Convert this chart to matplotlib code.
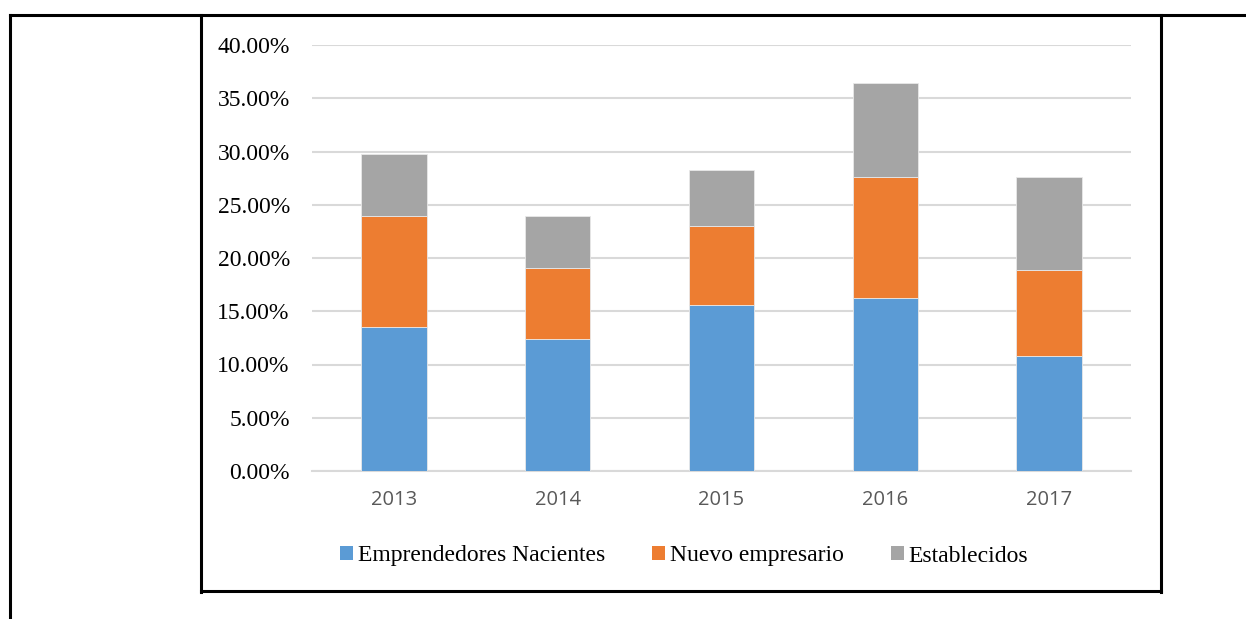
import numpy as np
import matplotlib
matplotlib.use("Agg")
import matplotlib.pyplot as plt
from matplotlib.lines import Line2D
from matplotlib.patches import Patch
from matplotlib.ticker import PercentFormatter

years = ["2013", "2014", "2015", "2016", "2017"]
nacientes = [13.52, 12.40, 15.59, 16.27, 10.77]
nuevo = [10.42, 6.69, 7.41, 11.31, 8.10]
establecidos = [5.83, 4.88, 5.26, 8.88, 8.71]
series_names = ["Emprendedores Nacientes", "Nuevo empresario", "Establecidos"]
colors = ["#5b9bd5", "#ed7d31", "#a5a5a5"]
yticks = [0, 5, 10, 15, 20, 25, 30, 35, 40]

fig = plt.figure(figsize=(12.46, 6.19), dpi=100)
ax = fig.add_axes([312 / 1246, 1 - 471 / 619, 819 / 1246, 426 / 619])

x = np.arange(len(years))
bottom = np.zeros(len(years))
for vals, name, c in zip([nacientes, nuevo, establecidos], series_names, colors):
    ax.bar(x, vals, 0.4, bottom=bottom, color=c, label=name, zorder=3,
           edgecolor="#e8e8e8", linewidth=0.6)
    bottom += np.array(vals)

ax.set_xlim(-0.5, len(years) - 0.5)
ax.set_ylim(0, 40)
ax.set_yticks(yticks)
ax.yaxis.set_major_formatter(PercentFormatter(decimals=2))
ax.set_xticks(x)
ax.set_xticklabels(years, family="Open Sans", fontsize=14.5, color="#595959")
for lab in ax.get_yticklabels():
    lab.set_family("Liberation Serif")
    lab.set_fontsize(17)
    lab.set_color("black")
ax.tick_params(axis="y", length=0, pad=16)
ax.tick_params(axis="x", length=0, pad=14)
ax.grid(axis="y", color="#d9d9d9", linewidth=1.5, zorder=0)
for s in ["top", "right", "left"]:
    ax.spines[s].set_visible(False)
ax.spines["bottom"].set_color("#d9d9d9")
ax.spines["bottom"].set_linewidth(1.5)

handles = [Patch(facecolor=c) for c in colors]
fig.legend(handles, series_names, loc="center", bbox_to_anchor=(684 / 1246, 1 - 556 / 619),
           ncol=3, frameon=False, prop={"family": "Liberation Serif", "size": 17},
           handlelength=0.55, handleheight=0.55, handletextpad=0.2, columnspacing=2.0)

# page borders
def fline(xs, ys):
    fig.add_artist(Line2D([v / 1246 for v in xs], [1 - v / 619 for v in ys],
                          color="black", linewidth=2.2, transform=fig.transFigure))

fline([10, 1246], [15, 15])
fline([10, 10], [15, 619])
fline([201, 201], [15, 592])
fline([201, 1161], [591, 591])
fline([1161, 1161], [15, 592])

fig.savefig("out.png", dpi=100)
